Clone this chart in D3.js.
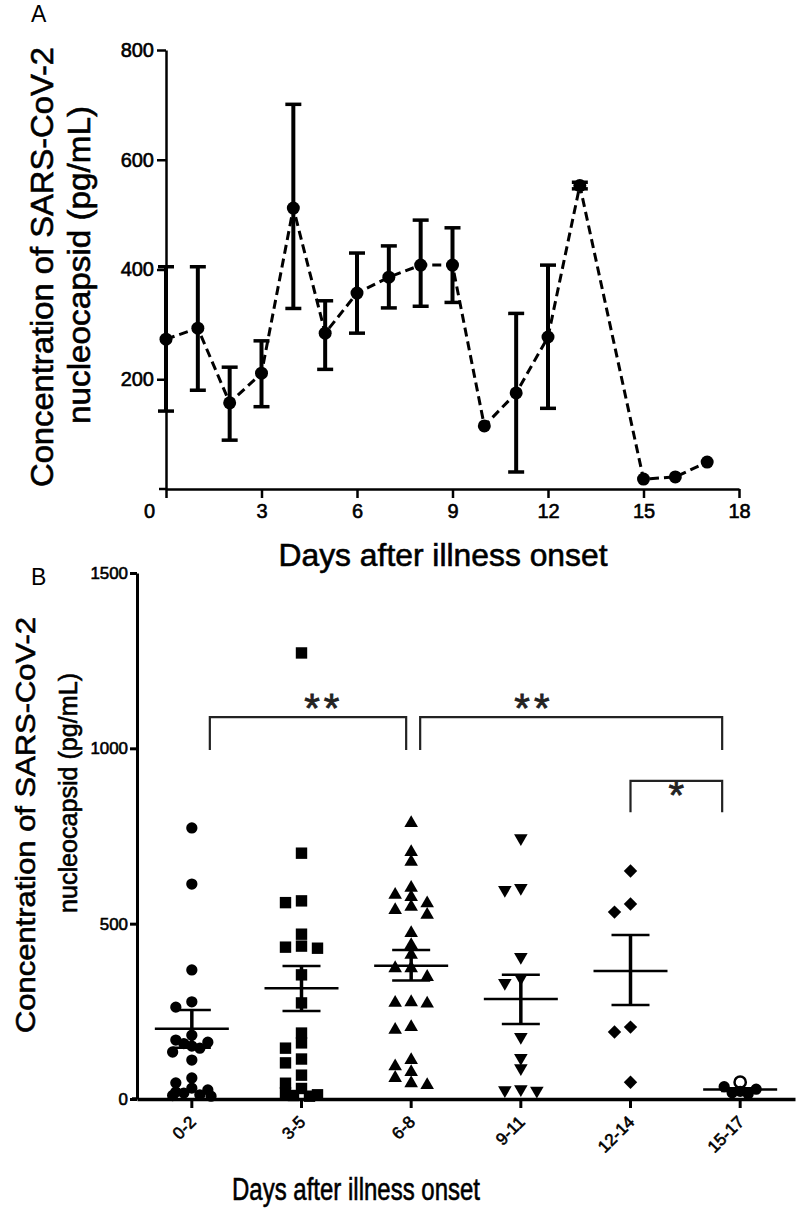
<!DOCTYPE html>
<html><head><meta charset="utf-8">
<script src="https://cdn.jsdelivr.net/npm/d3@7/dist/d3.min.js"></script>
<style>
body{margin:0;background:#fff}
text{font-family:"Liberation Sans",Arial,sans-serif;fill:#000}
.hv{stroke:#000;stroke-width:0.6px}
</style>
</head><body>
<svg id="chart" width="800" height="1220"></svg>
<script>
// ---------- Panel A data ----------
const daysA   = [0,1,2,3,4,5,6,7,8,9,10,11,12,13,15,16,17];
const meanA   = [273,293,157,211,512,284,357,386,408,408,115,175,277,553,18,22,49];
const upperA  = [405,405,222,270,701,343,430,443,490,476,null,320,408,559,null,null,null];
const lowerA  = [142,180,89,150,329,218,284,330,333,340,null,31,147,547,null,null,null];
const xTicksA = [0,3,6,9,12,15,18];
const yTicksA = [200,400,600,800];

// ---------- Panel B data ----------
const groupsB = ["0-2","3-5","6-8","9-11","12-14","15-17"];
const vals0_2   = [773,613,368,277,262,182,168,162,158,151,145,134,111,60,46,31,26,20,17,12,10,8];
const vals3_5   = [1272,701,565,560,470,436,433,430,354,274,188,160,145,114,103,68,45,30,18,12,10,8];
const vals6_8   = [787,704,676,602,582,576,558,548,539,525,473,439,411,373,373,348,276,274,272,205,197,111,93,77,60,45,40];
const vals9_11  = [744,602,596,405,345,331,177,117,88,28,25,24];
const vals12_14 = [650,556,533,205,191,48];
const vals15_17 = [48,35,28,22,18,14];
const hollow15_17 = [48];
const meanB     = [200,316,380,285,365,27];
const semUpperB = [254,379,425,354,468,31];
const semLowerB = [146,251,338,214,268,23];
const yTicksB   = [0,500,1000,1500];
const sigPairs  = [["0-2","6-8","**"],["6-8","15-17","**"],["12-14","15-17","*"]];

const svg = d3.select("#chart");

// ================= PANEL A =================
const xA = d3.scaleLinear().domain([0,18]).range([166,739]);
const yA = d3.scaleLinear().domain([0,800]).range([489,50]);
const gA = svg.append("g");

svg.append("text").attr("x",31).attr("y",22).style("font-size","23px").text("A");

const axA = gA.append("g").attr("transform","translate(0,489)")
  .call(d3.axisBottom(xA).tickValues(xTicksA).tickSize(9).tickSizeOuter(0).tickPadding(6));
axA.selectAll("text").style("font-size","20px").attr("dy","0.71em").attr("class","hv");
axA.selectAll("text").filter(d=>d===0).attr("dx",-17);
const ayA = gA.append("g").attr("transform","translate(166,0)")
  .call(d3.axisLeft(yA).tickValues(yTicksA).tickSize(9).tickSizeOuter(0).tickPadding(3));
ayA.selectAll("text").style("font-size","20px").attr("class","hv");
[axA,ayA].forEach(a=>{a.selectAll("path,line").attr("stroke","#000").attr("stroke-width",2.5);});
gA.append("line").attr("x1",159).attr("x2",166).attr("y1",489).attr("y2",489).attr("stroke","#000").attr("stroke-width",2.5);

const ptsA = daysA.map((d,i)=>({d, m:meanA[i], u:upperA[i], l:lowerA[i]}));
gA.append("path").datum(ptsA)
  .attr("d", d3.line().x(p=>xA(p.d)).y(p=>yA(p.m)))
  .attr("fill","none").attr("stroke","#000").attr("stroke-width",3).attr("stroke-dasharray","9,5");
const eb = gA.selectAll(".eb").data(ptsA.filter(p=>p.u!=null)).join("g");
eb.append("line").attr("x1",p=>xA(p.d)).attr("x2",p=>xA(p.d)).attr("y1",p=>yA(p.u)).attr("y2",p=>yA(p.l))
  .attr("stroke","#000").attr("stroke-width",4);
eb.append("line").attr("x1",p=>xA(p.d)-8).attr("x2",p=>xA(p.d)+8).attr("y1",p=>yA(p.u)).attr("y2",p=>yA(p.u))
  .attr("stroke","#000").attr("stroke-width",3.5);
eb.append("line").attr("x1",p=>xA(p.d)-8).attr("x2",p=>xA(p.d)+8).attr("y1",p=>yA(p.l)).attr("y2",p=>yA(p.l))
  .attr("stroke","#000").attr("stroke-width",3.5);
gA.selectAll(".pt").data(ptsA).join("circle")
  .attr("cx",p=>xA(p.d)).attr("cy",p=>yA(p.m)).attr("r",6.5).attr("fill","#000");

gA.append("text").attr("x",443).attr("y",566).attr("text-anchor","middle").attr("class","hv")
  .style("font-size","32px").attr("textLength",329).attr("lengthAdjust","spacingAndGlyphs")
  .text("Days after illness onset");
gA.append("text").attr("transform","translate(53,267) rotate(-90)").attr("text-anchor","middle").attr("class","hv")
  .style("font-size","32px").attr("textLength",440).attr("lengthAdjust","spacingAndGlyphs")
  .text("Concentration of SARS-CoV-2");
gA.append("text").attr("transform","translate(90,265) rotate(-90)").attr("text-anchor","middle").attr("class","hv")
  .style("font-size","32px").attr("textLength",318).attr("lengthAdjust","spacingAndGlyphs")
  .text("nucleocapsid (pg/mL)");

// ================= PANEL B =================
const xB = d3.scaleBand().domain(groupsB).range([137,795]);
const cx = g => xB(g) + xB.bandwidth()/2;
const yB = d3.scaleLinear().domain([0,1500]).range([1099,573]);
const gB = svg.append("g");

svg.append("text").attr("x",31).attr("y",585).style("font-size","23px").text("B");

const axB = gB.append("g").attr("transform","translate(0,1099)")
  .call(d3.axisBottom(xB).tickSize(9).tickSizeOuter(0));
axB.selectAll("text").remove();
axB.selectAll(".tick").append("text")
  .attr("transform","translate(5,24) rotate(-45)").attr("text-anchor","end").attr("class","hv")
  .style("font-size","17px").text(d=>d);
const ayB = gB.append("g").attr("transform","translate(137,0)")
  .call(d3.axisLeft(yB).tickValues(yTicksB).tickFormat(d3.format("d")).tickSize(7).tickSizeOuter(0).tickPadding(2));
ayB.selectAll("text").style("font-size","17px").attr("class","hv")
  .attr("textLength",function(d){return String(d).length*9.4;}).attr("lengthAdjust","spacingAndGlyphs");
[axB,ayB].forEach(a=>{a.selectAll("path,line").attr("stroke","#000").attr("stroke-width",3);});
axB.select(".domain").attr("stroke-width",3.5);
gB.append("line").attr("x1",132).attr("x2",137).attr("y1",1099).attr("y2",1099).attr("stroke","#000").attr("stroke-width",3.5);

const valsB = [vals0_2,vals3_5,vals6_8,vals9_11,vals12_14,vals15_17];
const symbols = [
  {t:d3.symbolCircle,s:100,r:0},
  {t:d3.symbolSquare,s:130,r:0},
  {t:d3.symbolTriangle,s:80,r:0},
  {t:d3.symbolTriangle,s:80,r:180},
  {t:d3.symbolSquare,s:90,r:45},
  {t:d3.symbolCircle,s:100,r:0}
];
// deterministic column-scatter spreading (GraphPad style)
function jitter(vals, size, step){
  const order = vals.map((v,i)=>i).sort((a,b)=>vals[b]-vals[a]);
  const cands=[0,-1,1,-0.5,0.5,-1.2,1.2];
  const placed=[], res=new Array(vals.length).fill(0);
  for(const i of order){
    const py=yB(vals[i]);
    let best=null, bestD=-1;
    for(const c of cands){
      const dx=c*step;
      let md=Infinity;
      placed.forEach(p=>{ if(Math.abs(p.py-py)<size){ md=Math.min(md,Math.abs(p.dx-dx)); } });
      if(md>=size){best=dx;bestD=Infinity;break;}
      if(md>bestD){bestD=md;best=dx;}
    }
    res[i]=best; placed.push({dx:best,py});
  }
  return res;
}
valsB.forEach((vals,gi)=>{
  const g = groupsB[gi];
  const offs = jitter(vals, 9, 16);
  const sym = symbols[gi];
  gB.selectAll(".s"+gi).data(vals).join("path")
    .attr("d", d3.symbol().type(sym.t).size(sym.s)())
    .attr("transform",(v,i)=>`translate(${cx(g)+offs[i]},${yB(v)}) rotate(${sym.r})`)
    .attr("fill",v=> (gi===5 && hollow15_17.includes(v)) ? "#fff" : "#000")
    .attr("stroke","#000").attr("stroke-width",v=>(gi===5 && hollow15_17.includes(v))?2.5:0);
});
// mean + SEM
groupsB.forEach((g,i)=>{
  const c=cx(g);
  const line=(x1,x2,y1,y2,w)=>gB.append("line").attr("x1",x1).attr("x2",x2).attr("y1",y1).attr("y2",y2).attr("stroke","#000").attr("stroke-width",w);
  line(c-37,c+37,yB(meanB[i]),yB(meanB[i]),2.5);
  line(c,c,yB(semUpperB[i]),yB(semLowerB[i]),3.5);
  line(c-19,c+19,yB(semUpperB[i]),yB(semUpperB[i]),2.5);
  line(c-19,c+19,yB(semLowerB[i]),yB(semLowerB[i]),2.5);
});
// significance brackets
const starPos = [0.57,0.37,0.5];
sigPairs.forEach(([a,b,lab],k)=>{
  const level = k<2 ? 1089 : 907;
  const drop  = k<2 ? 995 : 818;
  const x1 = k===0 ? cx(a)+18 : (k===1 ? cx(a)+9 : cx(a));
  const x2 = k===0 ? cx(b)-5 : cx(b)-18;
  gB.append("path").attr("d",`M${x1},${yB(drop)}V${yB(level)}H${x2}V${yB(drop)}`)
    .attr("fill","none").attr("stroke","#222").attr("stroke-width",2.2);
  gB.append("text").attr("x",x1+(x2-x1)*starPos[k]+2).attr("y",yB(level)+ (k<2?5:28))
    .attr("text-anchor","middle").style("font-size","40px").style("letter-spacing","4px")
    .style("fill","#222").style("stroke","#222").style("stroke-width","0.8px")
    .text(lab);
});

gB.append("text").attr("x",356).attr("y",1200).attr("text-anchor","middle").attr("class","hv")
  .style("font-size","31px").attr("textLength",248).attr("lengthAdjust","spacingAndGlyphs")
  .text("Days after illness onset");
gB.append("text").attr("transform","translate(35,825) rotate(-90)").attr("text-anchor","middle").attr("class","hv")
  .style("font-size","28px").attr("textLength",416).attr("lengthAdjust","spacingAndGlyphs")
  .text("Concentration of SARS-CoV-2");
gB.append("text").attr("transform","translate(77,793) rotate(-90)").attr("text-anchor","middle").attr("class","hv")
  .style("font-size","25px").attr("textLength",240).attr("lengthAdjust","spacingAndGlyphs")
  .text("nucleocapsid (pg/mL)");
</script>
</body></html>
